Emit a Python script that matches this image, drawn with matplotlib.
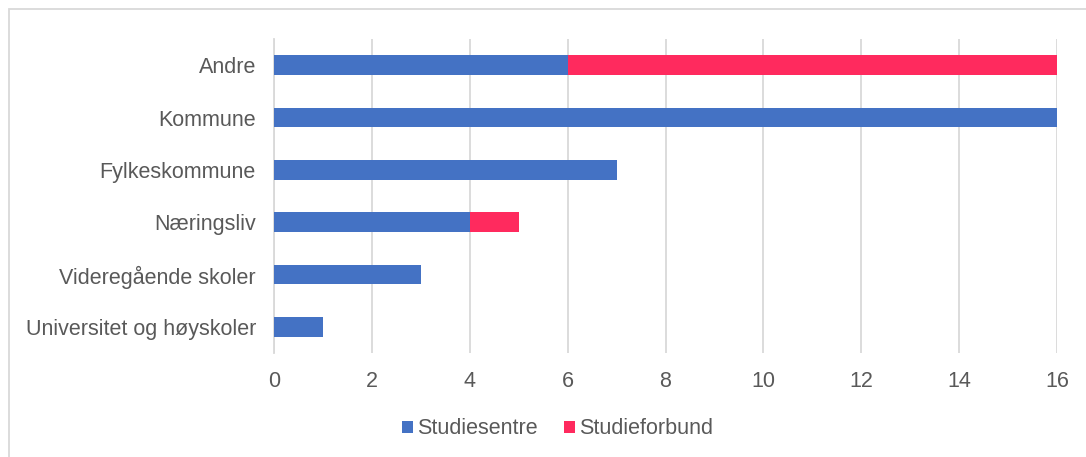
import numpy as np
import matplotlib.pyplot as plt
from matplotlib.patches import Rectangle

# Data
kategorier = ['Andre', 'Kommune', 'Fylkeskommune', 'Næringsliv',
              'Videregående skoler', 'Universitet og høyskoler']
studiesentre = [6, 16, 7, 4, 3, 1]
studieforbund = [10, 0, 0, 1, 0, 0]
serier = ['Studiesentre', 'Studieforbund']
xticks = [0, 2, 4, 6, 8, 10, 12, 14, 16]

blaa = '#4472C4'
rod = '#FF2A5E'
tekst = '#595959'
grid = '#D9D9D9'

plt.rcParams['font.family'] = ['Liberation Sans', 'DejaVu Sans']

fig = plt.figure(figsize=(10.86, 4.57), dpi=100)
ax = fig.add_axes([274 / 1086, 1 - 353 / 457, (1057 - 274) / 1086, (353 - 39) / 457])

y = np.arange(len(kategorier))
ax.barh(y, studiesentre, height=0.38, color=blaa, label=serier[0], zorder=3)
ax.barh(y, studieforbund, left=studiesentre, height=0.38, color=rod, label=serier[1], zorder=3)

ax.set_ylim(len(kategorier) - 0.5, -0.5)
ax.set_xlim(0, 16)
ax.set_yticks(y)
ax.set_yticklabels(kategorier)
ax.set_xticks(xticks)
ax.tick_params(axis='both', length=0, labelsize=15.5, labelcolor=tekst)
ax.tick_params(axis='y', pad=13)
ax.tick_params(axis='x', pad=13)
ax.grid(axis='x', color=grid, linewidth=1.3, zorder=0)
for s in ['top', 'right', 'bottom']:
    ax.spines[s].set_visible(False)
ax.spines['left'].set_color(grid)
ax.spines['left'].set_linewidth(1.3)

fig.legend(loc='center', bbox_to_anchor=(557.5 / 1086, 1 - 429 / 457), ncol=2, frameon=False,
           fontsize=15.5, labelcolor=tekst, handlelength=0.52, handleheight=0.52,
           handletextpad=0.2, columnspacing=1.2)

# ramme rundt figuren
fig.patches.append(Rectangle((9 / 1086, -0.01), 1.02, 1 - 9 / 457 + 0.01,
                             transform=fig.transFigure, fill=False,
                             edgecolor=grid, linewidth=1.3))

fig.savefig('out.png', dpi=100)
